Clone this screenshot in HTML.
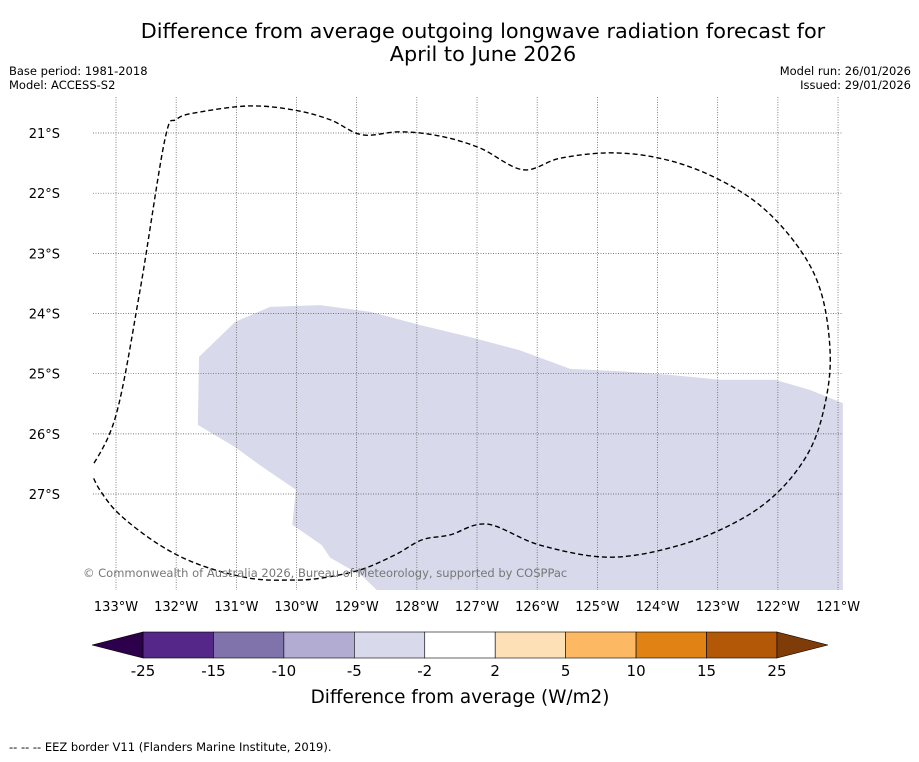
<!DOCTYPE html>
<html><head><meta charset="utf-8">
<style>
body{margin:0;background:#fff;width:919px;height:758px;overflow:hidden;font-family:"DejaVu Sans","Liberation Sans",sans-serif;}
</style></head>
<body>
<svg id="chart" width="919" height="758" viewBox="0 0 919 758" xmlns="http://www.w3.org/2000/svg" font-family="DejaVu Sans, Liberation Sans, sans-serif">
<text x="483" y="38" font-size="20.8" text-anchor="middle">Difference from average outgoing longwave radiation forecast for</text>
<text x="483" y="61" font-size="20.8" text-anchor="middle">April to June 2026</text>
<text x="9" y="75" font-size="11.5">Base period: 1981-2018</text>
<text x="9" y="89" font-size="11.5">Model: ACCESS-S2</text>
<text x="911" y="75" font-size="11.5" text-anchor="end">Model run: 26/01/2026</text>
<text x="911" y="89" font-size="11.5" text-anchor="end">Issued: 29/01/2026</text>
<g id="map"></g>
<g id="cbar"></g>
<text x="460" y="703" font-size="18.4" text-anchor="middle">Difference from average (W/m2)</text>
<text x="9" y="751" font-size="11.5">--  --  -- EEZ border V11 (Flanders Marine Institute, 2019).</text>
</svg>
<script>
const lonTicks=[-133,-132,-131,-130,-129,-128,-127,-126,-125,-124,-123,-122,-121];
const latTicks=[-21,-22,-23,-24,-25,-26,-27];
const anomLon=[-131.62,-131.02,-130.44,-129.61,-128.78,-127.95,-127.12,-126.29,-125.45,-124.62,-123.79,-122.96,-122.05,-121.47,-120.92,-120.92,-128.66,-128.91,-129.44,-129.58,-130.07,-130.01,-130.61,-131.02,-131.64];
const anomLat=[-24.72,-24.14,-23.89,-23.86,-23.97,-24.19,-24.39,-24.61,-24.92,-24.96,-25.02,-25.10,-25.10,-25.27,-25.49,-28.60,-28.60,-28.36,-28.06,-27.85,-27.51,-26.93,-26.52,-26.22,-25.85];
const eezLon=[-133.43,-133.00,-132.60,-132.19,-131.99,-131.60,-130.77,-130.03,-129.44,-128.91,-128.28,-127.62,-126.95,-126.24,-125.62,-124.79,-123.96,-123.13,-122.30,-121.63,-121.27,-121.13,-121.22,-121.47,-121.96,-122.63,-123.63,-124.79,-125.95,-126.83,-127.45,-127.91,-128.36,-128.94,-129.61,-130.11,-130.77,-131.60,-132.27,-132.93,-133.27,-133.43];
const eezLat=[-26.60,-25.69,-23.61,-21.12,-20.77,-20.65,-20.55,-20.62,-20.78,-21.03,-20.98,-21.05,-21.25,-21.61,-21.42,-21.33,-21.42,-21.70,-22.20,-22.94,-23.69,-24.69,-25.52,-26.27,-26.93,-27.43,-27.85,-28.05,-27.85,-27.50,-27.68,-27.76,-28.01,-28.26,-28.40,-28.43,-28.40,-28.18,-27.85,-27.35,-26.93,-26.60];
const cbarLevels=[-25,-15,-10,-5,-2,2,5,10,15,25];
const cbarColors=['#542788','#8073ac','#b2abd2','#d8daeb','#ffffff','#fee0b6','#fdb863','#e08214','#b35806'];
const NS='http://www.w3.org/2000/svg';
const X0=93,X1=843,Y0=97,Y1=590;
const xs=lon=>116+(lon+133)*60.17;
const ys=lat=>133+(-21-lat)*60.17;
function mk(tag,attrs,parent){const e=document.createElementNS(NS,tag);for(const k in attrs)e.setAttribute(k,attrs[k]);parent.appendChild(e);return e;}
const map=document.getElementById('map');
const defs=mk('defs',{},map);
const cp=mk('clipPath',{id:'mc'},defs);mk('rect',{x:X0,y:Y0,width:X1-X0,height:Y1-Y0},cp);
const g=mk('g',{'clip-path':'url(#mc)'},map);
const poly=mk('polygon',{points:anomLon.map((l,i)=>xs(l)+','+ys(anomLat[i])).join(' '),fill:'#d8daeb'},g);


lonTicks.forEach(l=>{
 const ln=mk('line',{x1:xs(l),x2:xs(l),y1:Y0,y2:Y1,stroke:'#555','stroke-width':0.7,'stroke-dasharray':'1,1.5'},g);
 
 
 const t=mk('text',{x:xs(l),y:611,'font-size':13,'text-anchor':'middle'},map);
 t.textContent=Math.abs(l)+'°W';
 
 
});
latTicks.forEach(l=>{
 const ln=mk('line',{x1:X0,x2:X1,y1:ys(l),y2:ys(l),stroke:'#555','stroke-width':0.7,'stroke-dasharray':'1,1.5'},g);
 
 
 const t=mk('text',{x:60,y:ys(l)+5,'font-size':13,'text-anchor':'end'},map);
 t.textContent=Math.abs(l)+'°S';
 
 
});
// smooth Catmull-Rom path for EEZ
const P=eezLon.map((l,i)=>[xs(l),ys(eezLat[i])]);
let d='M'+P[0][0]+','+P[0][1];
for(let i=0;i<P.length-1;i++){
 const p0=P[Math.max(i-1,0)],p1=P[i],p2=P[i+1],p3=P[Math.min(i+2,P.length-1)];
 const c1=[p1[0]+(p2[0]-p0[0])/6,p1[1]+(p2[1]-p0[1])/6];
 const c2=[p2[0]-(p3[0]-p1[0])/6,p2[1]-(p3[1]-p1[1])/6];
 d+=` C${c1[0]},${c1[1]} ${c2[0]},${c2[1]} ${p2[0]},${p2[1]}`;
}
const eez=mk('path',{d:d,fill:'none',stroke:'#000','stroke-width':1.4,'stroke-dasharray':'5,3'},g);


const cr=mk('text',{x:83,y:577,'font-size':11.5,fill:'#777'},map);
cr.textContent='© Commonwealth of Australia 2026, Bureau of Meteorology, supported by COSPPac';


const cb=document.getElementById('cbar');
const CB0=143,CBW=70.44,CY=632,CH=26;
const cx=i=>CB0+i*CBW;
cbarColors.forEach((c,i)=>{
 const r=mk('rect',{x:cx(i),y:CY,width:CBW,height:CH,fill:c,stroke:'#000','stroke-width':0.6},cb);
 
 
});
const lo=mk('polygon',{points:`${cx(0)},${CY} ${cx(0)},${CY+CH} 92,${CY+CH/2}`,fill:'#2d004b',stroke:'#000','stroke-width':0.6},cb);


const n=cbarColors.length;
const hi=mk('polygon',{points:`${cx(n)},${CY} ${cx(n)},${CY+CH} 828,${CY+CH/2}`,fill:'#7f3b08',stroke:'#000','stroke-width':0.6},cb);


cbarLevels.forEach((v,i)=>{
 const t=mk('text',{x:cx(i),y:676,'font-size':15,'text-anchor':'middle'},cb);
 t.textContent=v;
 
 
});
</script>
</body></html>
